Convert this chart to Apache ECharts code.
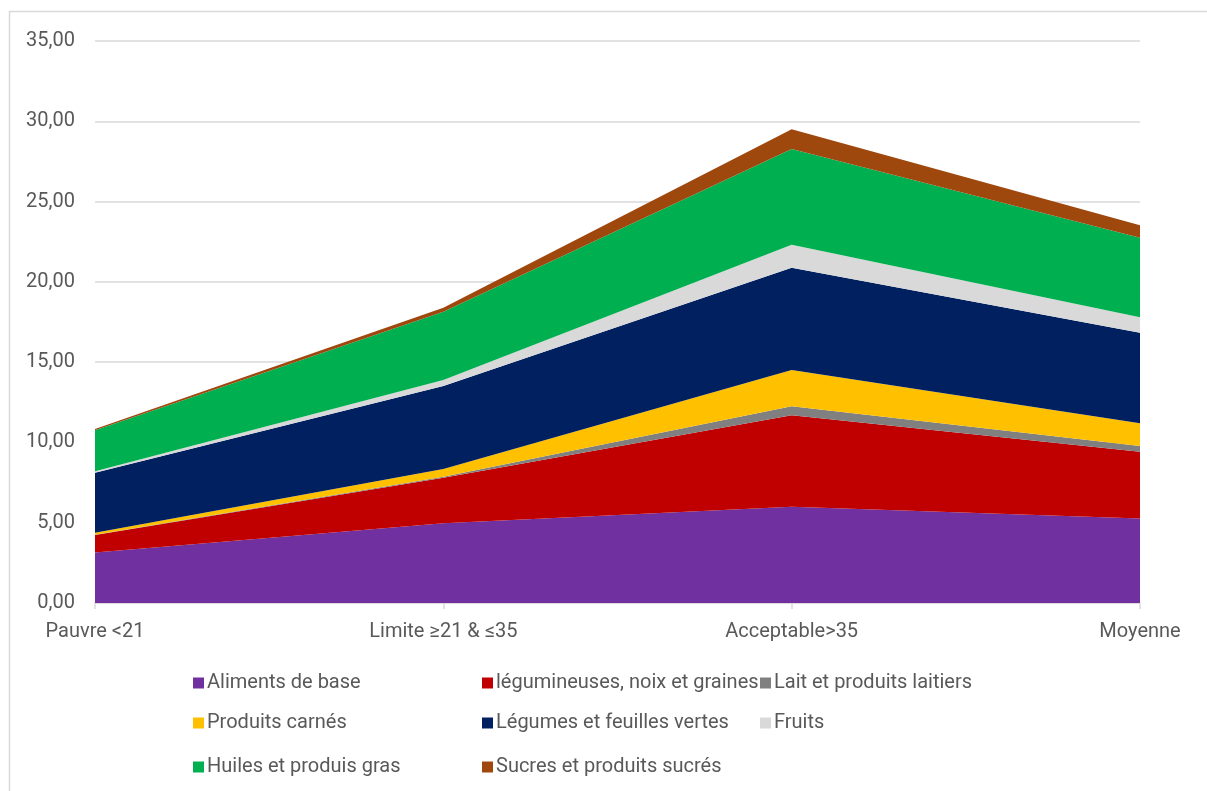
<!DOCTYPE html>
<html>
<head>
<meta charset="utf-8">
<script src="https://cdn.jsdelivr.net/npm/echarts@6/dist/echarts.min.js"></script>
<style>
  html, body { margin: 0; padding: 0; background: #fff; }
  #chart { width: 1207px; height: 791px; }
</style>
</head>
<body>
<div id="chart"></div>
<script>
// Consommation moyenne par groupe d'aliments selon le score de consommation alimentaire
const categories = ['Pauvre <21', 'Limite ≥21 & ≤35', 'Acceptable>35', 'Moyenne'];

const alimentsBase   = [3.15, 4.96, 6.00, 5.27];
const legumineuses   = [1.08, 2.84, 5.69, 4.15];
const laitiers       = [0.02, 0.07, 0.56, 0.36];
const carnes         = [0.13, 0.47, 2.26, 1.41];
const legumes        = [3.73, 5.17, 6.37, 5.64];
const fruits         = [0.10, 0.38, 1.43, 0.96];
const huiles         = [2.55, 4.25, 5.96, 4.96];
const sucres         = [0.07, 0.25, 1.24, 0.77];

const yTicks = { min: 0, max: 35, interval: 5 };

const seriesDefs = [
  { name: 'Aliments de base', data: alimentsBase, color: '#7030a0' },
  { name: 'légumineuses, noix et graines', data: legumineuses, color: '#c00000' },
  { name: 'Lait et produits laitiers', data: laitiers, color: '#808080' },
  { name: 'Produits carnés', data: carnes, color: '#ffc000' },
  { name: 'Légumes et feuilles vertes', data: legumes, color: '#002060' },
  { name: 'Fruits', data: fruits, color: '#d9d9d9' },
  { name: 'Huiles et produis gras', data: huiles, color: '#00b050' },
  { name: 'Sucres et produits sucrés', data: sucres, color: '#9e480e' }
];

// legend laid out as a 3-column grid
const legendCols = [188, 477, 755];
const legendRows = [668, 708, 752];

const legends = seriesDefs.map((s, i) => ({
  data: [s.name],
  left: legendCols[i % 3],
  top: legendRows[Math.floor(i / 3)],
  orient: 'horizontal',
  icon: 'rect',
  itemWidth: 11,
  itemHeight: 11,
  itemGap: 0,
  selectedMode: false,
  textStyle: {
    color: '#595959',
    fontSize: 20,
    fontFamily: 'Roboto, sans-serif',
    padding: [0, 0, 0, -2]
  }
}));

const chart = echarts.init(document.getElementById('chart'), null, { renderer: 'canvas' });

chart.setOption({
  animation: false,
  backgroundColor: '#ffffff',
  grid: { left: 95, right: 67, top: 41, bottom: 188, containLabel: false },
  legend: legends,
  xAxis: {
    type: 'category',
    data: categories,
    boundaryGap: false,
    axisLine: { show: true, lineStyle: { color: '#d9d9d9', width: 1.5 } },
    axisTick: { show: true, alignWithLabel: true, length: 6, lineStyle: { color: '#d9d9d9', width: 1.5 } },
    axisLabel: {
      color: '#595959',
      fontSize: 20,
      fontFamily: 'Roboto, sans-serif',
      margin: 19
    },
    splitLine: { show: false }
  },
  yAxis: {
    type: 'value',
    min: yTicks.min,
    max: yTicks.max,
    interval: yTicks.interval,
    axisLine: { show: false },
    axisTick: { show: false },
    axisLabel: {
      color: '#595959',
      fontSize: 20,
      fontFamily: 'Roboto, sans-serif',
      margin: 20,
      formatter: v => v.toFixed(2).replace('.', ',')
    },
    splitLine: { show: true, lineStyle: { color: '#d9d9d9', width: 1.5 } }
  },
  series: seriesDefs.map(s => ({
    name: s.name,
    type: 'line',
    stack: 'total',
    data: s.data,
    color: s.color,
    symbol: 'none',
    showSymbol: false,
    lineStyle: { width: 0 },
    areaStyle: { color: s.color, opacity: 1 },
    emphasis: { disabled: true }
  })),
  graphic: [
    { type: 'line', shape: { x1: 9, y1: 11.5, x2: 1207, y2: 11.5 }, style: { stroke: '#d9d9d9', lineWidth: 1.5 }, silent: true },
    { type: 'line', shape: { x1: 9.5, y1: 11, x2: 9.5, y2: 791 }, style: { stroke: '#d9d9d9', lineWidth: 1.5 }, silent: true }
  ]
});
</script>
</body>
</html>
